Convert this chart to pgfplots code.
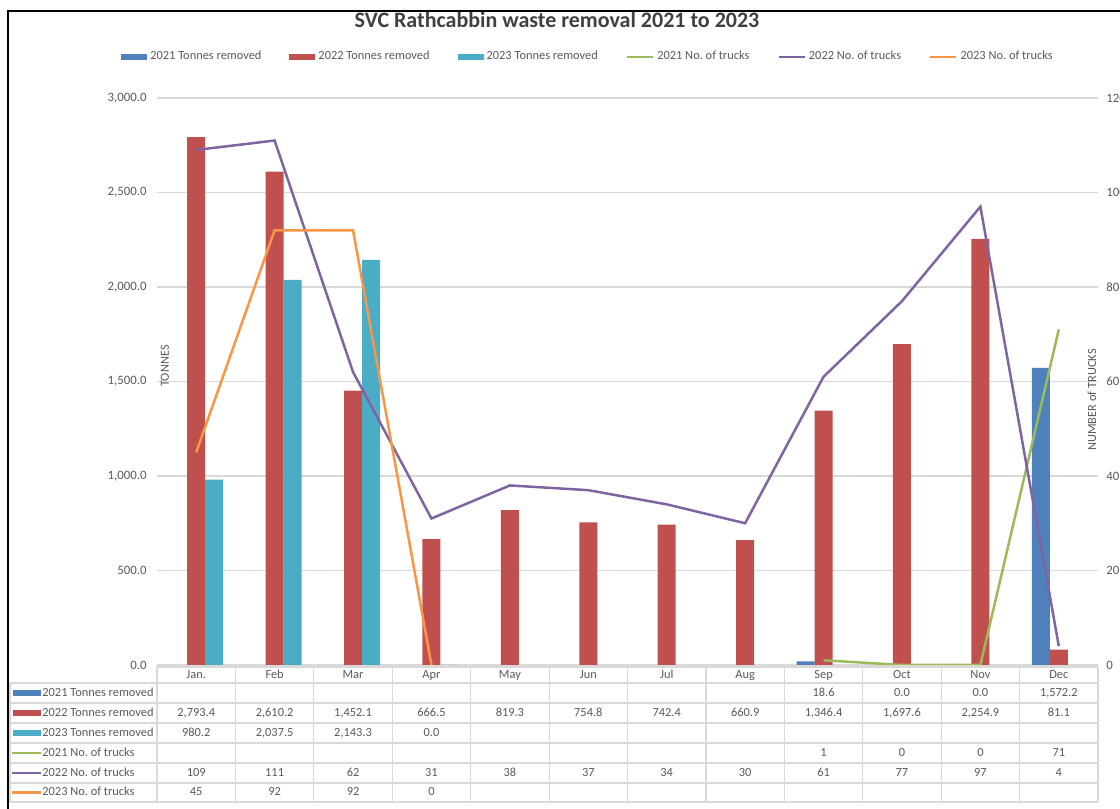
\documentclass[border=0pt]{standalone}
\usepackage{fontspec}
\setmainfont{Carlito}
\usepackage{pgfplots}
\pgfplotsset{compat=1.18}
\definecolor{c21}{HTML}{4F81BD}
\definecolor{c22}{HTML}{C0504D}
\definecolor{c23}{HTML}{4BACC6}
\definecolor{l21}{HTML}{9BBB59}
\definecolor{l22}{HTML}{8064A2}
\definecolor{l23}{HTML}{F79646}
\definecolor{txt}{HTML}{595959}
\definecolor{ttl}{HTML}{404040}
\definecolor{gridc}{HTML}{D9D9D9}
\pgfplotsset{
  lineleg/.style={legend image code/.code={\draw[##1] (0pt,0pt) -- (13pt,0pt);}},
  barleg/.style={legend image code/.code={\fill[##1] (0pt,-1.5pt) rectangle (13pt,1.5pt);}},
}
\newcommand{\sm}{\fontsize{6.2}{7}\selectfont}
\frenchspacing
\begin{document}
\begin{tikzpicture}
\tikzset{cell/.style={font=\sm, text=txt, inner sep=0pt, text height=4.3pt, text depth=1.2pt}}
\useasboundingbox (0pt,0pt) rectangle (560pt,404.5pt);
\begin{scope}
\clip (0pt,0pt) rectangle (560pt,404.5pt);
% bars, left axis
\begin{axis}[
  at={(78.5pt,72pt)}, anchor=south west,
  scale only axis, width=470.5pt, height=283.5pt,
  xmin=-0.5, xmax=11.5, ymin=0, ymax=3000,
  ybar=0pt, bar width=9pt,
  xtick=\empty,
  ytick={0,500,...,3000},
  ymajorgrids, grid style={gridc, line width=0.6pt},
  axis line style={draw=none}, tick style={draw=none},
  yticklabel style={font=\fontsize{6.4}{7}\selectfont, text=txt, inner sep=0pt, xshift=-5pt,
    /pgf/number format/.cd, fixed, fixed zerofill, precision=1, 1000 sep={,}, assume math mode=true},
]
\addplot[fill=c21, draw=none] coordinates {(8,18.6) (9,0) (10,0) (11,1572.2)};
\addplot[fill=c22, draw=none] coordinates {(0,2793.4) (1,2610.2) (2,1452.1) (3,666.5) (4,819.3) (5,754.8) (6,742.4) (7,660.9) (8,1346.4) (9,1697.6) (10,2254.9) (11,81.1)};
\addplot[fill=c23, draw=none] coordinates {(0,980.2) (1,2037.5) (2,2143.3) (3,0)};
\end{axis}
% lines, right axis
\begin{axis}[
  at={(78.5pt,72pt)}, anchor=south west,
  scale only axis, width=470.5pt, height=283.5pt,
  xmin=-0.5, xmax=11.5, ymin=0, ymax=120,
  xtick=\empty, ytick={0,20,...,120}, yticklabel pos=right,
  axis line style={draw=none}, tick style={draw=none},
  yticklabel style={font=\fontsize{6.4}{7}\selectfont, text=txt, inner sep=0pt, xshift=4pt,
    /pgf/number format/assume math mode=true},
  lineleg,
  legend columns=6,
  legend style={at={(0.457,1.0723)}, anchor=center, draw=none, fill=none,
    font=\sm, text=txt, inner sep=0pt, nodes={inner sep=0pt},
    /tikz/every odd column/.append style={column sep=1.5pt},
    /tikz/every even column/.append style={column sep=14pt}},
]
\addlegendimage{barleg, fill=c21, draw=none}
\addlegendentry{2021 Tonnes removed}
\addlegendimage{barleg, fill=c22, draw=none}
\addlegendentry{2022 Tonnes removed}
\addlegendimage{barleg, fill=c23, draw=none}
\addlegendentry{2023 Tonnes removed}
\addplot[l21, line width=1.25pt] coordinates {(8,1) (9,0) (10,0) (11,71)};
\addlegendentry{2021 No. of trucks}
\addplot[l22, line width=1.25pt] coordinates {(0,109) (1,111) (2,62) (3,31) (4,38) (5,37) (6,34) (7,30) (8,61) (9,77) (10,97) (11,4)};
\addlegendentry{2022 No. of trucks}
\addplot[l23, line width=1.25pt] coordinates {(0,45) (1,92) (2,92) (3,0)};
\addlegendentry{2023 No. of trucks}
\end{axis}
\begin{scope}[x=0.5pt,y=0.5pt]
% titles
\node[font=\bfseries\fontsize{11}{13}\selectfont, text=ttl] at (557,789) {SVC Rathcabbin waste removal 2021 to 2023};
\node[rotate=90, font=\sm, text=txt] at (165,443) {TONNES};
\node[rotate=90, font=\sm, text=txt] at (1092,409) {NUMBER of TRUCKS};
% data table grid
\draw[gridc, line width=0.6pt] (157,142) -- (1098,142);
\foreach \yy in {126,106,86,66,46,26,7} \draw[gridc, line width=0.6pt] (10,\yy) -- (1098,\yy);
\draw[gridc, line width=0.6pt] (10,126) -- (10,7);
\foreach \k in {0,...,12} \draw[gridc, line width=0.6pt] ({157+78.42*\k},142) -- ({157+78.42*\k},7);
% header
\foreach \m [count=\i from 0] in {Jan.,Feb,Mar,Apr,May,Jun,Jul,Aug,Sep,Oct,Nov,Dec}
  \node[cell] at ({157+78.42*(\i+0.5)},134) {\m};
% legend column
\fill[c21] (13,113) rectangle (41,119);
\fill[c22] (13,93) rectangle (41,99);
\fill[c23] (13,73) rectangle (41,79);
\draw[l21, line width=1.2pt] (12,56) -- (41,56);
\draw[l22, line width=1.2pt] (12,36) -- (41,36);
\draw[l23, line width=1.2pt] (12,16.5) -- (41,16.5);
\node[cell, anchor=west] at (42,116) {2021 Tonnes removed};
\node[cell, anchor=west] at (42,96) {2022 Tonnes removed};
\node[cell, anchor=west] at (42,76) {2023 Tonnes removed};
\node[cell, anchor=west] at (42,56) {2021 No. of trucks};
\node[cell, anchor=west] at (42,36) {2022 No. of trucks};
\node[cell, anchor=west] at (42,16.5) {2023 No. of trucks};
% values
\foreach \i/\v in {8/18.6, 9/0.0, 10/0.0, 11/{1,572.2}}
  \node[cell] at ({157+78.42*(\i+0.5)},116) {\v};
\foreach \i/\v in {0/{2,793.4}, 1/{2,610.2}, 2/{1,452.1}, 3/666.5, 4/819.3, 5/754.8, 6/742.4, 7/660.9, 8/{1,346.4}, 9/{1,697.6}, 10/{2,254.9}, 11/81.1}
  \node[cell] at ({157+78.42*(\i+0.5)},96) {\v};
\foreach \i/\v in {0/980.2, 1/{2,037.5}, 2/{2,143.3}, 3/0.0}
  \node[cell] at ({157+78.42*(\i+0.5)},76) {\v};
\foreach \i/\v in {8/1, 9/0, 10/0, 11/71}
  \node[cell] at ({157+78.42*(\i+0.5)},56) {\v};
\foreach \i/\v in {0/109, 1/111, 2/62, 3/31, 4/38, 5/37, 6/34, 7/30, 8/61, 9/77, 10/97, 11/4}
  \node[cell] at ({157+78.42*(\i+0.5)},36) {\v};
\foreach \i/\v in {0/45, 1/92, 2/92, 3/0}
  \node[cell] at ({157+78.42*(\i+0.5)},16.5) {\v};
% frame
\draw[black, line width=1.1pt] (8,0) -- (8,798) -- (1125,798);
\end{scope}
\end{scope}
\end{tikzpicture}
\end{document}
